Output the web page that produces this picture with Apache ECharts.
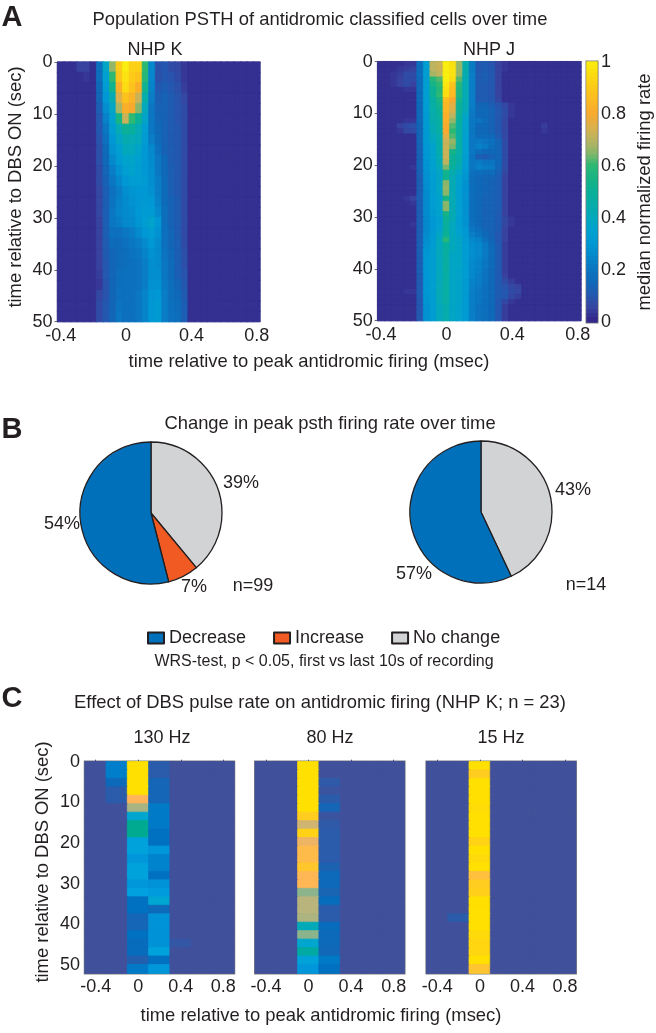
<!DOCTYPE html>
<html><head><meta charset="utf-8">
<style>html,body{margin:0;padding:0;background:#fff}#c{width:656px;height:1033px}</style>
<script src="https://cdn.jsdelivr.net/npm/echarts@6/dist/echarts.min.js"></script></head>
<body><div id="c"></div>
<script>
// Firing rate values are percent of the normalized rate (0-100).
const K_rows = [
[2,2,2,5,5,2,18,38,66,90,100,92,92,60,25,8,10,7,6,3,2,2,2,2,2,2,2,2,2,2,2],
[2,2,2,2,3,2,17,35,60,88,97,90,88,58,25,8,10,9,7,3,2,2,2,2,2,2,2,2,2,2,2],
[2,2,2,2,2,2,15,33,52,82,95,88,82,52,24,10,12,10,8,4,2,2,2,2,2,2,2,2,2,2,2],
[2,2,2,2,2,2,14,30,42,75,88,83,72,45,22,12,13,11,9,6,2,2,2,2,2,2,2,2,2,2,2],
[2,2,2,2,2,2,12,27,38,68,82,80,65,40,20,13,13,11,9,7,2,2,2,2,2,2,2,2,2,2,2],
[2,2,2,2,2,2,10,23,35,55,72,60,50,37,20,14,13,11,9,7,2,2,2,2,2,2,2,2,2,2,2],
[2,2,2,2,2,2,10,20,33,42,50,48,42,33,20,15,13,11,10,7,2,2,2,2,2,2,2,2,2,2,2],
[2,2,2,2,2,2,9,18,30,38,43,42,40,32,22,16,13,11,10,7,2,2,2,2,2,2,2,2,2,2,2],
[2,2,2,2,2,2,8,16,28,34,40,40,37,30,25,18,13,11,10,7,2,2,2,2,2,2,2,2,2,2,2],
[2,2,2,2,2,2,8,15,25,32,36,37,35,30,26,20,15,11,10,7,2,2,2,2,2,2,2,2,2,2,2],
[2,2,2,2,2,2,7,14,22,28,34,36,34,30,27,20,15,12,10,7,2,2,2,2,2,2,2,2,2,2,2],
[2,2,2,2,2,2,7,13,20,25,30,33,33,31,27,22,16,12,10,7,2,2,2,2,2,2,2,2,2,2,2],
[2,2,2,2,2,2,6,12,18,22,27,29,30,30,28,22,16,12,10,7,2,2,2,2,2,2,2,2,2,2,2],
[2,2,2,2,2,2,6,12,19,23,26,28,30,31,30,23,16,13,11,7,2,2,2,2,2,2,2,2,2,2,2],
[2,2,2,2,2,2,6,12,20,24,26,27,30,32,32,25,17,13,11,7,2,2,2,2,2,2,2,2,2,2,2],
[2,2,2,2,2,2,5,12,20,22,25,26,29,33,36,30,17,13,11,7,2,2,2,2,2,2,2,2,2,2,2],
[2,2,2,2,2,2,5,12,18,18,20,22,26,30,33,28,18,14,11,7,2,2,2,2,2,2,2,2,2,2,2],
[2,2,2,2,2,2,5,11,16,16,18,20,22,26,30,26,18,14,12,7,2,2,2,2,2,2,2,2,2,2,2],
[2,2,2,2,2,2,5,11,14,16,17,19,20,24,28,26,19,15,12,8,2,2,2,2,2,2,2,2,2,2,2],
[2,2,2,2,2,2,5,10,14,16,17,18,19,22,27,26,20,16,12,8,2,2,2,2,2,2,2,2,2,2,2],
[2,2,2,2,2,2,4,10,14,17,18,18,19,22,27,27,20,16,12,9,2,2,2,2,2,2,2,2,2,2,2],
[2,2,2,2,2,2,3,9,14,17,18,18,19,22,28,28,21,17,14,10,2,2,2,2,2,2,2,2,2,2,2],
[2,2,2,2,2,2,6,9,14,18,18,18,20,24,29,30,22,17,15,11,2,2,2,2,2,2,2,2,2,2,2],
[2,2,2,2,2,2,7,10,14,19,18,18,20,24,30,32,22,18,16,12,2,2,2,2,2,2,2,2,2,2,2],
[2,2,2,2,2,2,7,10,14,20,18,18,20,24,30,32,22,18,17,12,2,2,2,2,2,2,2,2,2,2,2]
];
const J_rows = [
[2,2,2,2,3,3,17,34,70,72,100,96,66,44,21,10,11,9,5,3,2,2,2,2,2,2,2,2,2,2,2],
[2,2,2,3,4,5,17,34,70,72,100,97,66,44,21,10,11,10,5,3,2,2,2,2,2,2,2,2,2,2,2],
[2,2,3,4,7,7,17,34,68,70,100,97,66,43,22,11,12,10,5,2,2,2,2,2,2,2,2,2,2,2,2],
[2,2,3,5,7,7,16,34,58,62,100,95,62,42,22,11,12,10,5,2,2,2,2,2,2,2,2,2,2,2,2],
[2,2,3,5,7,5,16,34,54,60,98,88,58,42,22,11,11,10,5,2,2,2,2,2,2,2,2,2,2,2,2],
[2,2,2,2,3,3,16,34,50,58,96,86,56,42,22,11,11,10,5,2,2,2,2,2,2,2,2,2,2,2,2],
[2,2,2,2,2,2,16,34,50,60,95,85,56,42,22,11,11,10,5,2,2,2,2,2,2,2,2,2,2,2,2],
[2,2,2,2,2,2,16,34,46,55,86,80,52,42,22,11,11,10,6,2,2,2,2,2,2,2,2,2,2,2,2],
[2,2,2,2,2,2,15,33,46,52,84,76,50,42,22,14,14,12,9,6,3,2,2,2,2,2,2,2,2,2,2],
[2,2,2,2,2,2,15,33,45,50,84,74,50,41,21,15,15,13,10,7,3,2,2,2,2,2,2,2,2,2,2],
[2,2,2,2,2,2,15,32,44,48,82,70,48,38,20,15,15,13,10,7,3,2,2,2,2,2,2,2,2,2,2],
[2,2,2,2,3,3,15,32,44,46,82,66,48,36,20,19,16,13,10,6,2,2,2,2,2,2,2,2,2,2,2],
[2,2,2,5,7,8,14,32,42,46,80,62,46,36,20,15,15,13,10,6,2,2,2,2,2,4,2,2,2,2,2],
[2,2,2,3,6,7,14,31,42,46,80,60,46,36,20,15,15,13,10,6,2,2,2,2,2,3,2,2,2,2,2],
[2,2,2,2,2,2,14,31,40,44,76,62,46,35,20,16,16,15,11,6,2,2,2,2,2,2,2,2,2,2,2],
[2,2,2,2,2,2,14,31,38,44,72,66,46,35,20,21,19,18,14,7,2,2,2,2,2,2,2,2,2,2,2],
[2,2,2,2,2,2,13,30,36,44,72,64,46,35,20,23,21,17,14,7,2,2,2,2,2,2,2,2,2,2,2],
[2,2,2,2,2,2,13,30,36,44,72,54,46,35,20,17,15,15,14,7,2,2,2,2,2,2,2,2,2,2,2],
[2,2,2,2,2,2,13,30,36,42,72,50,44,33,19,12,11,13,14,7,2,2,2,2,2,2,2,2,2,2,2],
[2,2,2,2,2,2,13,29,35,42,70,50,44,33,20,21,19,19,15,7,2,2,2,2,2,2,2,2,2,2,2],
[2,2,2,2,2,3,13,29,35,40,64,48,42,32,20,23,21,21,14,7,2,2,2,2,2,2,2,2,2,2,2],
[2,2,2,2,2,2,13,28,34,38,52,44,38,30,18,17,16,16,13,6,2,2,2,2,2,2,2,2,2,2,2],
[2,2,2,2,2,2,12,28,34,38,52,42,36,29,17,15,14,14,12,5,2,2,2,2,2,2,2,2,2,2,2],
[2,2,2,2,2,2,12,27,33,38,65,42,36,28,17,15,14,13,12,5,2,2,2,2,2,2,2,2,2,2,2],
[2,2,2,2,2,2,12,27,33,38,66,42,35,28,17,15,14,13,12,5,2,2,2,2,2,2,2,2,2,2,2],
[2,2,2,2,2,2,12,26,33,37,65,42,35,28,17,15,14,13,12,5,2,2,2,2,2,2,2,2,2,2,2],
[2,2,2,2,3,5,12,26,33,36,54,42,35,28,17,15,13,13,12,5,2,2,2,2,2,2,2,2,2,2,2],
[2,2,2,2,2,3,12,26,33,36,65,42,35,28,17,15,13,13,12,5,2,2,2,2,2,2,2,2,2,2,2],
[2,2,2,2,2,2,12,26,33,36,65,42,35,28,17,15,13,13,12,5,2,2,2,2,2,2,2,2,2,2,2],
[2,2,2,2,2,2,12,26,32,36,54,42,35,28,17,15,13,13,11,5,2,2,2,2,2,2,2,2,2,2,2],
[2,2,2,2,2,2,12,25,30,35,50,42,34,28,17,15,13,13,11,6,3,2,2,2,2,2,2,2,2,2,2],
[2,2,2,2,2,3,12,25,30,35,48,40,34,28,18,15,13,13,11,6,3,2,2,2,2,2,2,2,2,2,2],
[2,2,2,2,2,2,12,25,30,36,48,40,35,30,20,17,14,13,11,5,2,2,2,2,2,2,2,2,2,2,2],
[2,2,2,2,2,2,12,26,31,38,50,40,36,30,22,19,15,13,10,5,2,2,2,2,2,2,2,2,2,2,2],
[2,2,2,2,2,2,12,27,32,40,58,40,38,32,25,23,18,14,10,5,2,2,2,2,2,2,2,2,2,2,2],
[2,2,2,2,2,2,12,28,33,40,48,40,38,33,27,25,21,15,11,4,2,2,2,2,2,2,2,2,2,2,2],
[2,2,2,2,2,2,12,29,34,40,47,40,38,33,27,25,21,16,11,4,2,2,2,2,2,2,2,2,2,2,2],
[2,2,2,2,2,2,12,30,34,40,47,38,38,33,27,25,21,16,11,4,2,2,2,2,2,2,2,2,2,2,2],
[2,2,2,2,2,2,12,30,34,40,47,38,38,33,26,24,20,16,11,4,2,2,2,2,2,2,2,2,2,2,2],
[2,2,2,2,2,2,12,30,34,40,47,38,38,33,26,23,20,16,11,4,2,2,2,2,2,2,2,2,2,2,2],
[2,2,2,2,2,2,12,30,34,40,47,38,37,33,25,23,19,15,11,4,2,2,2,2,2,2,2,2,2,2,2],
[2,2,2,2,2,2,11,30,34,40,46,38,37,33,25,22,19,15,11,5,2,2,2,2,2,2,2,2,2,2,2],
[2,2,2,2,2,2,11,30,34,41,46,38,37,32,24,22,19,15,11,7,4,2,2,2,2,2,2,2,2,2,2],
[2,2,2,2,2,2,11,30,35,41,46,38,37,32,23,21,18,15,11,9,6,5,2,2,2,2,2,2,2,2,2],
[2,2,2,2,3,3,11,30,34,42,46,38,37,32,22,20,18,15,11,10,7,6,2,2,2,2,2,2,2,2,2],
[2,2,2,2,2,2,11,29,33,42,46,38,37,32,22,20,18,15,11,10,6,4,2,2,2,2,2,2,2,2,2],
[2,2,2,2,2,2,10,29,33,41,46,38,37,32,22,20,17,15,10,6,3,2,2,2,2,2,2,2,2,2,2],
[2,2,2,2,2,2,10,28,33,40,44,38,36,32,22,19,17,15,10,4,2,2,2,2,2,2,2,2,2,2,2],
[2,2,2,2,2,2,10,28,33,40,44,38,36,32,22,19,17,15,10,4,2,2,2,2,2,2,2,2,2,2,2],
[2,2,2,2,2,2,10,28,33,40,44,38,36,32,22,19,17,15,10,4,2,2,2,2,2,2,2,2,2,2,2]
];
const hz130_rows = [
[0,23,100,10,0,0,0],[0,23,100,10,0,0,0],[0,17,100,15,0,0,0],[0,10,100,15,0,0,0],[0,10,80,15,0,0,0],
[0,0,65,22,0,0,0],[0,0,38,22,0,0,0],[0,0,50,22,0,0,0],[0,0,50,20,0,0,0],[0,0,32,20,0,0,0],
[0,0,32,28,0,0,0],[0,0,28,24,0,0,0],[0,0,32,24,0,0,0],[0,0,32,20,0,0,0],[0,0,28,27,0,0,0],
[0,0,31,29,0,0,0],[0,0,20,36,0,0,0],[0,0,20,17,0,0,0],[0,0,15,27,0,0,0],[0,0,15,27,0,0,0],
[0,0,20,27,0,0,0],[0,0,18,27,6,0,0],[0,0,18,32,0,0,0],[0,0,12,20,0,0,0],[0,0,22,28,0,0,0]
];
const hz80_rows = [
[0,0,100,0,0,0,0],[0,0,100,0,0,0,0],[0,0,100,8,0,0,0],[0,0,100,3,0,0,0],[0,0,100,10,0,0,0],
[0,0,100,15,0,0,0],[0,0,90,3,0,0,0],[0,0,72,8,0,0,0],[0,0,93,10,0,0,0],[0,0,77,10,0,0,0],
[0,0,83,10,0,0,0],[0,0,83,10,0,0,0],[0,0,88,13,0,0,0],[0,0,81,17,0,0,0],[0,0,81,17,0,0,0],
[0,0,60,14,0,0,0],[0,0,68,18,0,0,0],[0,0,68,10,0,0,0],[0,0,66,10,0,0,0],[0,0,43,18,0,0,0],
[0,0,60,17,0,0,0],[0,0,38,17,0,0,0],[0,0,47,16,0,0,0],[0,0,33,22,0,0,0],[0,0,28,20,0,0,0]
];
const hz15_rows = [
[0,0,100,0,0,0,0],[0,0,90,0,0,0,0],[0,0,100,0,0,0,0],[0,0,100,0,0,0,0],[0,0,100,0,0,0,0],
[0,0,98,0,0,0,0],[0,0,100,0,0,0,0],[0,0,100,0,0,0,0],[0,0,100,0,0,0,0],[0,0,93,0,0,0,0],
[0,0,100,0,0,0,0],[0,0,97,0,0,0,0],[0,0,100,0,0,0,0],[0,0,85,0,0,0,0],[0,0,90,0,0,0,0],
[0,0,92,0,0,0,0],[0,0,100,0,0,0,0],[0,0,100,0,0,0,0],[0,10,100,0,0,0,0],[0,0,100,0,0,0,0],
[0,0,97,0,0,0,0],[0,0,95,0,0,0,0],[0,0,95,0,0,0,0],[0,0,100,0,0,0,0],[0,0,87,0,0,0,0]
];
const binsA = [-0.4,-0.36,-0.32,-0.28,-0.24,-0.2,-0.16,-0.12,-0.08,-0.04,0,0.04,0.08,0.12,0.16,0.2,0.24,0.28,0.32,0.36,0.4,0.44,0.48,0.52,0.56,0.6,0.64,0.68,0.72,0.76,0.8];
const binsC = [-0.4,-0.2,0,0.2,0.4,0.6,0.8];
const pieNames = ['Decrease','Increase','No change'];
const pieK = [{name:'No change',value:39},{name:'Increase',value:7},{name:'Decrease',value:54}];
const pieJ = [{name:'No change',value:43},{name:'Decrease',value:57}];
const pieColors = {'Decrease':'#0070bb','Increase':'#f15a22','No change':'#d1d3d4'};
const colorbarLevels = [];
for (let i = 0; i < 64; i++) colorbarLevels.push((63.5 - i) / 64 * 100);

const parulaPrint = ['#322488','#38439f','#2458b0','#0f68b8','#0b76c2','#0588cc','#0098d4','#00a0d0','#04a8bc','#07ada8','#0bb096','#19b484','#2db873','#8ab66a','#bcb460','#dcb04a','#f9a92e','#fcb924','#fdca18','#fcdc12','#f9ee0f'];
const parulaC = ['#41509b','#2a5cab','#0070c0','#00a0e0','#00a8c8','#00aa90','#8cb48c','#c4b478','#ffb45a','#ffcc20','#ffe000'];

const FONT = '"Liberation Sans", Arial, sans-serif';
const INK = '#231f20', AXC = '#6a6a6a';
const grids=[], xAxes=[], yAxes=[], series=[];

function heat(rect, rows, bins, o){
  const g = grids.length;
  grids.push(Object.assign({left:rect[0],top:rect[1],width:rect[2],height:rect[3]},
    o.box ? {show:true,borderColor:'#808080',borderWidth:o.box,backgroundColor:'transparent'} : {}));
  const xi = xAxes.length, yi = yAxes.length;
  xAxes.push({gridIndex:g,type:'category',data:bins.map(String),position:'bottom',
    axisLine:{show:o.showX,lineStyle:{color:AXC,width:1.2}},
    axisTick:{show:o.showX,alignWithLabel:true,interval:(i)=>i%o.tickStep===0,length:o.tickLen,inside:o.tickIn,lineStyle:{color:o.tickColor||AXC}},
    axisLabel:{show:o.showX,interval:(i)=>i%o.labelStep===0,formatter:(v)=>String(+v),fontFamily:FONT,fontSize:18,color:INK,margin:o.xMargin,hideOverlap:false},
    splitLine:{show:false}});
  yAxes.push({gridIndex:g,type:'category',inverse:true,data:rows.map((_,i)=>String(i)),show:false});
  // value axis sharing the grid: draws time ticks and labels
  yAxes.push(Object.assign({gridIndex:g,type:'value',inverse:!o.colorbar,position:o.colorbar?'right':'left',min:0,max:o.yMax,interval:o.yStep,
    axisLine:{show:true,lineStyle:{color:AXC,width:1.2}},
    axisTick:{show:o.yTicks,length:3,lineStyle:{color:AXC}},
    axisLabel:{show:true,showMaxLabel:o.yMax%o.yStep===0||o.colorbar,showMinLabel:true,fontFamily:FONT,fontSize:18,color:INK,margin:o.yMargin,formatter:(v)=>String(v),hideOverlap:false,padding:o.yPad||0},
    splitLine:{show:false}}));
  const stops = o.map==='C' ? parulaC : parulaPrint;
  const data=[];
  rows.forEach((r,y)=>r.forEach((v,x)=>{
    const c = echarts.color.lerp(v/100, stops);
    // a border of the same colour closes the hairline seams between cells
    data.push({value:[x,y,v],itemStyle:{color:c,borderColor:c,borderWidth:0.8}});
  }));
  series.push({type:'heatmap',xAxisIndex:xi,yAxisIndex:yi,data,emphasis:{disabled:true},silent:true,progressive:0,animation:false,z:o.box?1:2});
}

const aOpt = {showX:true,tickStep:5,labelStep:10,tickLen:3,tickIn:false,xMargin:5,yMax:50,yStep:10,yTicks:true,yMargin:5};
heat([57.5,62,202.5,259.7],K_rows,binsA,aOpt);
heat([377.7,61.7,203.3,259],J_rows,binsA,aOpt);
heat([587,62,10,260],colorbarLevels.map(v=>[v]),[0],{showX:false,tickStep:1,labelStep:1,tickLen:0,tickIn:false,xMargin:0,yMax:1,yStep:0.2,yTicks:false,yMargin:4,box:3,colorbar:true});
const cOpt = {showX:true,tickStep:2,labelStep:2,tickLen:2,tickIn:true,tickColor:'#41509b',xMargin:5,yMax:52,yStep:10,yTicks:false,yMargin:5,box:2.5,map:'C',yPad:[3,0,0,0]};
heat([85,761.7,149,211.5],hz130_rows,binsC,cOpt);
heat([255.3,761.7,149,211.5],hz80_rows,binsC,cOpt);
heat([426.7,761.7,149,211.5],hz15_rows,binsC,cOpt);
// hide y labels on the 80 Hz and 15 Hz panels
yAxes[yAxes.length-1].axisLabel.show=false; yAxes[yAxes.length-3].axisLabel.show=false;

const pieLabelSpots = {K:{'No change':[241,483],'Increase':[194,587],'Decrease':[62,524]},J:{'No change':[573,490],'Decrease':[414,574]}};
function pie(center,data,key){
  series.push({type:'pie',name:key,center,radius:71,startAngle:90,clockwise:true,silent:true,animation:false,
    data:data.map(d=>({name:d.name,value:d.value,itemStyle:{color:pieColors[d.name],borderColor:'#231f20',borderWidth:1.3}})),
    label:{show:true,position:'outside',overflow:'none',formatter:'{c}%',fontFamily:FONT,fontSize:18,color:INK},
    labelLine:{show:false},
    labelLayout:(p)=>{const s=pieLabelSpots[key][data[p.dataIndex].name];return {x:s[0],y:s[1],align:'center',verticalAlign:'middle'};}});
}
pie([151,513],pieK,'K');
pie([481,512],pieJ,'J');

function txt(t,x,y,size,extra){
  return Object.assign({type:'text',x,y,silent:true,style:{text:t,align:'center',verticalAlign:'middle',fontFamily:FONT,fontSize:size,fill:INK}},extra||{});
}
function lbl(t,x,y,size){const e=txt(t,x,y,size);e.style.fontWeight='bold';return e;}
const R = {rotation:Math.PI/2};
const texts = [
  lbl('A',12,18,29), lbl('B',12,430,29), lbl('C',12,699,29),
  txt('Population PSTH of antidromic classified cells over time',320,20,18.4),
  txt('NHP K',155,50,18), txt('NHP J',489,50,18),
  txt('time relative to DBS ON (sec)',16,187,18.4,R),
  txt('time relative to peak antidromic firing (msec)',309,362,18.4),
  txt('median normalized firing rate',645,192,18.4,R),
  txt('Change in peak psth firing rate over time',330,424,18.4),
  txt('n=99',253,586,18), txt('n=14',586,585,18),
  txt('WRS-test, p < 0.05, first vs last 10s of recording',324,662,16),
  txt('Effect of DBS pulse rate on antidromic firing (NHP K; n = 23)',320,703,18.4),
  txt('130 Hz',162,738,18), txt('80 Hz',330,738,18), txt('15 Hz',501,738,18),
  txt('time relative to DBS ON (sec)',43,862,18.4,R),
  txt('time relative to peak antidromic firing (msec)',321,1016,18.4)
];

const chart = echarts.init(document.getElementById('c'),null,{renderer:'canvas'});
chart.setOption({
  animation:false,backgroundColor:'#fff',
  grid:grids,xAxis:xAxes,yAxis:yAxes,series,
  legend:{data:pieNames,left:147,top:629,padding:0,orient:'horizontal',icon:'rect',itemWidth:16,itemHeight:11,itemGap:27,selectedMode:false,
    textStyle:{fontFamily:FONT,fontSize:18,color:INK}},
  graphic:{elements:texts}
});
</script></body></html>
